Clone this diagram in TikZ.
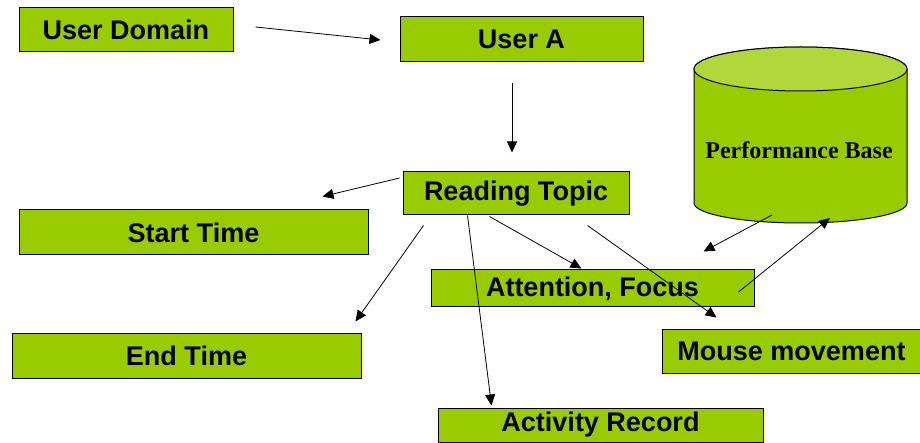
\documentclass[tikz,border=0pt]{standalone}
\usepackage{fontspec}
\setmainfont{Liberation Sans}
\newfontfamily\serifbold{Liberation Serif}
\usetikzlibrary{arrows.meta,calc}
\definecolor{boxgreen}{HTML}{99CC00}
\definecolor{topgreen}{HTML}{B0D83A}
\begin{document}
\begin{tikzpicture}[x=1pt,y=-1pt,
  box/.style={draw=black, line width=1pt, fill=boxgreen, inner sep=0pt, anchor=center,
    font=\fontsize{27}{30}\selectfont\bfseries},
  arr/.style={draw=black, line width=0.8pt, -{Triangle[length=11pt,width=10pt]}}]
\useasboundingbox[fill=white] (0,0) rectangle (920,443);
% boxes
\node[box, minimum width=214pt, minimum height=44pt] (ud) at (126,30) {User Domain};
\node[box, minimum width=243pt, minimum height=45pt] (ua) at (521.5,39.5) {User A};
\node[box, minimum width=226pt, minimum height=43pt] (rt) at (516,193.5) {Reading Topic};
\node[box, minimum width=349pt, minimum height=45pt] (st) at (193.5,232.5) {Start Time};
\node[box, minimum width=349pt, minimum height=45pt] (et) at (186.5,355.5) {End Time};
\node[box, minimum width=323pt, minimum height=37pt] (af) at (592.5,288.5) {Attention, Focus};
\node[box, minimum width=264pt, minimum height=44pt] (mm) at (794,351) {\hspace*{-5pt}Mouse movement};
\node[box, minimum width=325pt, minimum height=34pt] (ar) at (600.5,425) {Activity Record};
% cylinder
\filldraw[fill=boxgreen, draw=black, line width=1pt]
  (694,69) -- (694,203) arc[start angle=180, end angle=360, x radius=106.5pt, y radius=20pt]
  -- (907,69) arc[start angle=0, end angle=180, x radius=106.5pt, y radius=22pt] -- cycle;
\filldraw[fill=topgreen, draw=black, line width=1pt] (800.5,69) ellipse [x radius=106.5pt, y radius=22pt];
\node[inner sep=0pt, font=\serifbold\fontsize{24}{26}\selectfont\bfseries] (pb) at (799,150) {Performance Base};
% connectors
\draw[arr] ($(ud.east)+(22,-3)$) -- ($(ua.west)+(-19,0.5)$);
\draw[arr] ($(ua.south)+(-9.5,21)$) -- ($(rt.north)+(-4,-19)$);
\draw[arr] ($(rt.west)+(-3,-15.5)$) -- ($(st.north east)+(-46,-13)$);
\draw[arr] ($(rt.south west)+(21,10)$) -- ($(et.north east)+(-6,-11)$);
\draw[arr] ($(rt.south west)+(65,0)$) -- ($(ar.north west)+(54,-2)$);
\draw[arr] ($(rt.south west)+(87,1)$) -- ($(af.north west)+(151,-1)$);
\draw[arr] ($(rt.south east)+(-42,10)$) -- ($(mm.north west)+(55,-11)$);
\draw[arr] ($(pb)+(-27,65)$) -- ($(af.north east)+(-51,-18)$);
\draw[arr] ($(af.east)+(-16,3.5)$) -- ($(pb)+(31,68)$);
\end{tikzpicture}
\end{document}
